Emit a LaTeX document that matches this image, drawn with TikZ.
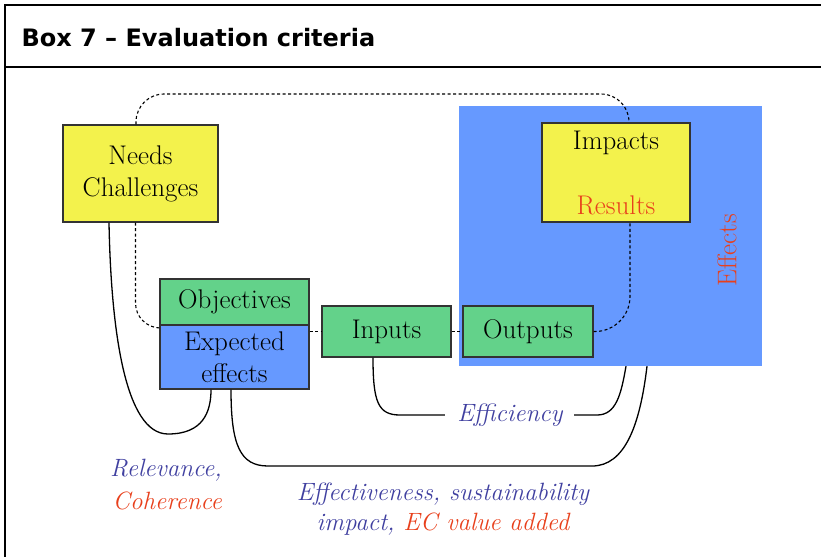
\documentclass[tikz,border=0pt]{standalone}
\usepackage{fontspec}
\newfontfamily\titlefont{DejaVu Sans}
\usetikzlibrary{calc}
\definecolor{needyellow}{RGB}{243,242,76}
\definecolor{objgreen}{RGB}{99,210,138}
\definecolor{effblue}{RGB}{102,153,255}
\definecolor{critred}{RGB}{232,64,28}
\definecolor{critblue}{RGB}{64,64,160}
\newcommand{\boxfont}{\fontsize{27}{32}\selectfont}
\newcommand{\critfont}{\fontsize{25}{30}\selectfont\itshape}

\tikzset{
	box/.style={draw=black!80, line width=1.2pt, inner sep=0pt, align=center, font=\boxfont},
	link/.style={line width=1.3pt},
	dlink/.style={line width=1.1pt, dash pattern=on 3pt off 2.5pt},
	crit/.style={text=critblue, font=\critfont, align=center, inner sep=0pt},
}

\begin{document}
\begin{tikzpicture}[x=1pt,y=-1pt]
	\useasboundingbox (0,0) rectangle (821,557);
	\draw[line width=2.3pt] (821,5) -- (5,5) -- (5,557);
	\draw[line width=2.7pt] (5,67) -- (821,67);
	\node[anchor=west, font=\titlefont\bfseries\fontsize{24}{28}\selectfont] (title) at (18,38) {Box 7 – Evaluation criteria};
	
	\node[fill=effblue, minimum width=303pt, minimum height=260pt] (effects) at (610.5,236) {};
	\node[text=critred, rotate=90, font=\boxfont] (effectslabel) at (727,250) {Effects};
	
	\node[box, fill=needyellow, minimum width=155pt, minimum height=97pt] (needs) at (140.5,173.5) {Needs\\Challenges};
	\node[box, fill=needyellow, minimum width=148pt, minimum height=99pt] (impacts) at (616,172.5) {Impacts\\[33pt]\textcolor{critred}{Results}};
	
	\node[box, fill=objgreen, minimum width=149pt, minimum height=46pt] (objectives) at (234.5,302) {Objectives};
	\node[box, fill=effblue, minimum width=149pt, minimum height=64pt] (expected) at (234.5,357) {Expected\\effects};
	\node[box, fill=objgreen, minimum width=129pt, minimum height=51pt] (inputs) at (386.5,331.5) {Inputs};
	\node[box, fill=objgreen, minimum width=130pt, minimum height=51pt] (outputs) at (528,331.5) {Outputs};
	
	\coordinate (topleft) at (136,94);
	\coordinate (topright) at (629,94);
	\draw[dlink, rounded corners=28] ([xshift=-4.5pt]needs.north) -- (topleft) -- (topright) -- ([xshift=13pt]impacts.north);
	\draw[dlink, rounded corners=25] ([xshift=-5pt]needs.south) |- ([yshift=29pt]expected.west);
	\draw[dlink] (expected.east |- inputs.west) -- (inputs.west);
	\draw[dlink] (inputs) -- (outputs);
	\draw[dlink, rounded corners=35] (outputs.east) -| ([xshift=14pt]impacts.south);
	
	\draw[link] ([xshift=-31.5pt]needs.south) .. controls (111,330) and (125,434) .. (168,434) .. controls (203,434) and (211,412) .. ([xshift=-23.5pt]expected.south);
	\draw[link] ([xshift=-13.5pt]inputs.south) .. controls (373,402) and (378,415) .. (400,415) -- node[pos=0.558, crit, fill=white, inner xsep=12pt] (efficiency) {Efficiency} (597,415) .. controls (616,415) and (621,395) .. ([xshift=15.5pt]effects.south);
	\draw[link] ([xshift=-3.5pt]expected.south) .. controls (231,445) and (240,466) .. (268,466) -- (592,466) .. controls (625,466) and (640,425) .. ([xshift=36.5pt]effects.south);
	
	\node[crit, align=right, anchor=east] (relevance) at (222,485) {Relevance,\\[3pt]\textcolor{critred}{Coherence}};
	\node[crit] (effectiveness) at (443,509) {Effectiveness, sustainability\\impact, \textcolor{critred}{EC value added}};
\end{tikzpicture}
\end{document}
